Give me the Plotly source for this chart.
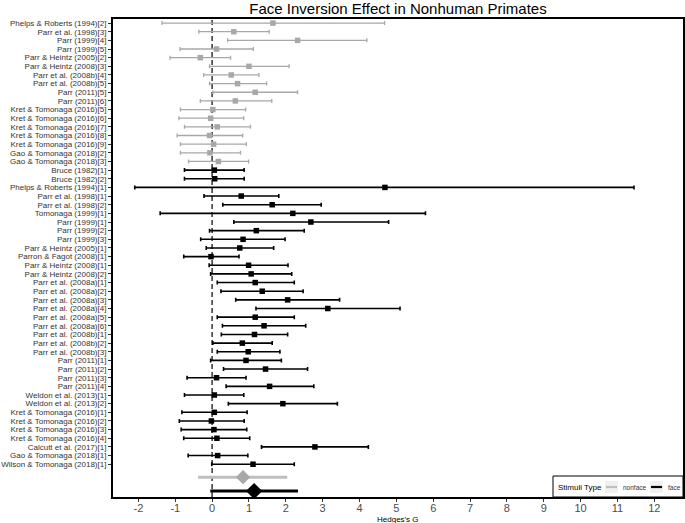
import plotly.graph_objects as go

# ---- data ----
labels = [
    "Phelps & Roberts (1994)[2]", "Parr et al. (1998)[3]", "Parr (1999)[4]", "Parr (1999)[5]",
    "Parr & Heintz (2005)[2]", "Parr & Heintz (2008)[3]", "Parr et al. (2008b)[4]", "Parr et al. (2008b)[5]",
    "Parr (2011)[5]", "Parr (2011)[6]", "Kret & Tomonaga (2016)[5]", "Kret & Tomonaga (2016)[6]",
    "Kret & Tomonaga (2016)[7]", "Kret & Tomonaga (2016)[8]", "Kret & Tomonaga (2016)[9]",
    "Gao & Tomonaga (2018)[2]", "Gao & Tomonaga (2018)[3]",
    "Bruce (1982)[1]", "Bruce (1982)[2]", "Phelps & Roberts (1994)[1]", "Parr et al. (1998)[1]",
    "Parr et al. (1998)[2]", "Tomonaga (1999)[1]", "Parr (1999)[1]", "Parr (1999)[2]", "Parr (1999)[3]",
    "Parr & Heintz (2005)[1]", "Parron & Fagot (2008)[1]", "Parr & Heintz (2008)[1]", "Parr & Heintz (2008)[2]",
    "Parr et al. (2008a)[1]", "Parr et al. (2008a)[2]", "Parr et al. (2008a)[3]", "Parr et al. (2008a)[4]",
    "Parr et al. (2008a)[5]", "Parr et al. (2008a)[6]", "Parr et al. (2008b)[1]", "Parr et al. (2008b)[2]",
    "Parr et al. (2008b)[3]", "Parr (2011)[1]", "Parr (2011)[2]", "Parr (2011)[3]", "Parr (2011)[4]",
    "Weldon et al. (2013)[1]", "Weldon et al. (2013)[2]", "Kret & Tomonaga (2016)[1]",
    "Kret & Tomonaga (2016)[2]", "Kret & Tomonaga (2016)[3]", "Kret & Tomonaga (2016)[4]",
    "Calcutt et al. (2017)[1]", "Gao & Tomonaga (2018)[1]", "Wilson & Tomonaga (2018)[1]",
]
stimuli = ["nonface"] * 17 + ["face"] * 35
est = [1.65, 0.59, 2.32, 0.12, -0.32, 1.00, 0.52, 0.69, 1.17, 0.63, 0.02, -0.04, 0.14, -0.07, 0.04,
       -0.06, 0.17,
       0.06, 0.07, 4.69, 0.79, 1.63, 2.19, 2.68, 1.20, 0.84, 0.75, -0.03, 0.99, 1.06, 1.17, 1.36,
       2.05, 3.14, 1.17, 1.41, 1.15, 0.82, 0.98, 0.92, 1.45, 0.12, 1.56, 0.06, 1.92, 0.06, -0.02,
       0.05, 0.13, 2.79, 0.15, 1.11]
lo = [-1.36, -0.36, 0.42, -0.87, -1.14, -0.07, -0.23, -0.07, 0.02, -0.32, -0.86, -0.90, -0.75, -0.95,
      -0.86, -0.86, -0.64,
      -0.75, -0.75, -2.10, -0.22, 0.29, -1.41, 0.59, -0.07, -0.31, -0.16, -0.77, -0.08, -0.04, 0.14,
      0.24, 0.64, 1.19, 0.14, 0.28, 0.25, 0.02, 0.14, -0.04, 0.31, -0.68, 0.38, -0.75, 0.44, -0.82,
      -0.89, -0.84, -0.77, 1.34, -0.65, -0.01]
hi = [4.68, 1.55, 4.20, 1.12, 0.50, 2.09, 1.27, 1.48, 2.32, 1.62, 0.91, 0.86, 1.04, 0.83, 0.93,
      0.77, 0.99,
      0.87, 0.87, 11.45, 1.81, 2.96, 5.79, 4.79, 2.50, 1.98, 1.67, 0.73, 2.06, 2.16, 2.23, 2.47,
      3.46, 5.10, 2.23, 2.54, 2.05, 1.63, 1.84, 1.88, 2.59, 0.92, 2.76, 0.86, 3.40, 0.95, 0.87,
      0.94, 1.02, 4.24, 0.97, 2.23]

summary_types = ["nonface", "face"]
summary_est = [0.84, 1.14]
summary_lo = [-0.38, -0.05]
summary_hi = [2.04, 2.33]

x_ticks = list(range(-2, 13))
legend_title = "Stimuli Type"
legend_items = ["nonface", "face"]

# ---- layout helpers ----
W, H = 685, 523
ML, MR, MT, MB = 113, 2, 19, 26
PW, PH = W - ML - MR, H - MT - MB


def px(xp):   # pixel x -> paper x
    return (xp - ML) / PW


def py(yp):   # pixel y -> paper y
    return (H - MB - yp) / PH


n = len(labels)
ypos = [3.1 + (n - 1 - i) for i in range(n)]
summary_y = [1.6, 0.0]

colors = {"nonface": "#A8A8A8", "face": "#000000"}
summary_line_colors = {"nonface": "#BEBEBE", "face": "#000000"}

fig = go.Figure()

for st in ["nonface", "face"]:
    idx = [i for i in range(n) if stimuli[i] == st]
    fig.add_trace(go.Scatter(
        x=[est[i] for i in idx], y=[ypos[i] for i in idx], mode="markers",
        marker=dict(symbol="square", size=5.5, color=colors[st]),
        error_x=dict(type="data", symmetric=False,
                     array=[hi[i] - est[i] for i in idx],
                     arrayminus=[est[i] - lo[i] for i in idx],
                     color=colors[st], thickness=1.6 if st == "face" else 1.3, width=2),
        showlegend=False, hoverinfo="skip",
    ))

for k, st in enumerate(summary_types):
    fig.add_trace(go.Scatter(
        x=[summary_est[k]], y=[summary_y[k]], mode="markers",
        marker=dict(symbol="diamond", size=11 if st == "nonface" else 12.5,
                    color="#A8A8A8" if st == "nonface" else "#000000"),
        error_x=dict(type="data", symmetric=False,
                     array=[summary_hi[k] - summary_est[k]],
                     arrayminus=[summary_est[k] - summary_lo[k]],
                     color=summary_line_colors[st], thickness=3, width=0),
        showlegend=False, hoverinfo="skip",
    ))

# zero reference line
fig.add_shape(type="line", x0=0, x1=0, xref="x", yref="paper", y0=0, y1=1,
              line=dict(color="#333333", width=1.5, dash="5px,3px"), layer="below")

# ---- legend (drawn as layout shapes/text, bottom-right inside panel) ----
fig.add_shape(type="rect", xref="paper", yref="paper", x0=px(553), x1=1.0, y0=0.0, y1=py(476),
              line=dict(color="#000000", width=1), fillcolor="white", layer="above")
fig.add_annotation(xref="paper", yref="paper", x=px(556), y=py(487), xanchor="left", yanchor="middle",
                   text=legend_title, showarrow=False, font=dict(size=8, color="#000000"))
key_x = [605, 650]
text_x = [621, 666]
for k, item in enumerate(legend_items):
    fig.add_shape(type="rect", xref="paper", yref="paper", x0=px(key_x[k]), x1=px(key_x[k] + 13),
                  y0=py(493), y1=py(481), line=dict(width=0), fillcolor="#F0F0F0", layer="above")
    fig.add_shape(type="line", xref="paper", yref="paper", x0=px(key_x[k] + 1), x1=px(key_x[k] + 12),
                  y0=py(487), y1=py(487),
                  line=dict(color=summary_line_colors[item], width=2.2), layer="above")
    fig.add_annotation(xref="paper", yref="paper", x=px(text_x[k]), y=py(487), xanchor="left",
                       yanchor="middle", text=item, showarrow=False,
                       font=dict(size=6.5, color="#333333"))

# x-axis title
fig.add_annotation(xref="paper", yref="paper", x=0.5, y=py(519), xanchor="center", yanchor="middle",
                   text="Hedges's G", showarrow=False, font=dict(size=8, color="#000000"))

fig.update_layout(
    width=W, height=H,
    margin=dict(l=ML, r=MR, t=MT, b=MB, autoexpand=False),
    paper_bgcolor="white", plot_bgcolor="white",
    font=dict(family="Liberation Sans, Arial, sans-serif", color="#333333"),
    title=dict(text="Face Inversion Effect in Nonhuman Primates", xref="paper", x=0.5,
               xanchor="center", yref="container", y=1 - 8.5 / H, yanchor="middle",
               font=dict(size=15, color="#000000")),
    showlegend=False,
)

fig.update_xaxes(
    range=[-2.69, 12.78], tickmode="array", tickvals=x_ticks, ticktext=[str(t) for t in x_ticks],
    showgrid=False, zeroline=False, showline=True, linecolor="#000000", linewidth=2, mirror=True,
    ticks="outside", ticklen=3, tickcolor="#333333", tickwidth=1, automargin=False,
    ticklabelstandoff=-3,
    tickfont=dict(size=11, color="#4D4D4D"),
)
fig.update_yaxes(
    range=[-0.69, 54.57], tickmode="array", tickvals=ypos, ticktext=labels,
    showgrid=False, zeroline=False, showline=True, linecolor="#000000", linewidth=2, mirror=True,
    ticks="outside", ticklen=3, tickcolor="#333333", tickwidth=1, automargin=False,
    tickfont=dict(size=8.0, color="#333333"),
)

fig.write_html("out.html",
               config={"displayModeBar": False},
               post_script="document.body.style.margin='0';document.body.style.padding='0';"
                           "document.body.style.overflow='hidden';")
